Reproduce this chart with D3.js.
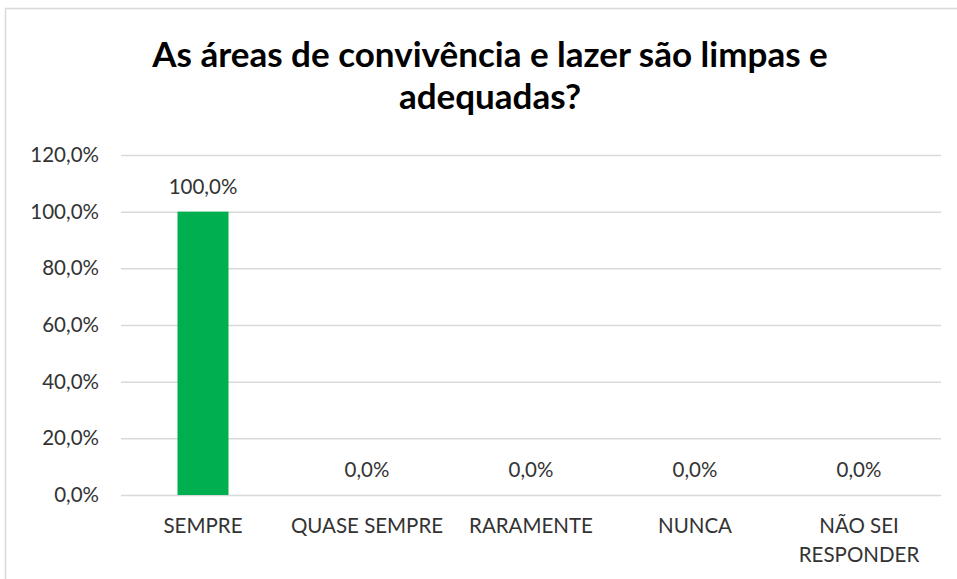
<!DOCTYPE html>
<html><head><meta charset="utf-8">
<script src="https://cdn.jsdelivr.net/npm/d3@7"></script>
<style>body{margin:0;background:#fff}svg{display:block}</style>
</head><body>
<svg id="c" width="957" height="579"></svg>
<script>
const categories = ["SEMPRE", "QUASE SEMPRE", "RARAMENTE", "NUNCA", "NÃO SEI RESPONDER"];
const values = [100.0, 0.0, 0.0, 0.0, 0.0];
const yTicks = [0, 20, 40, 60, 80, 100, 120];
const titleLines = ["As áreas de convivência e lazer são limpas e", "adequadas?"];

const svg = d3.select("#c");
const font = "Lato, 'Open Sans', sans-serif";
const txt = "#333333";
const fs = 20.5;

// chart frame
svg.append("rect").attr("x", 5.5).attr("y", 8.5).attr("width", 1000).attr("height", 600)
  .attr("fill", "#fff").attr("stroke", "#d9d9d9").attr("stroke-width", 1.5);

const m = {left: 121, right: 941, top: 155, bottom: 495};
const x = d3.scaleBand().domain(categories).range([m.left, m.right]).paddingInner(0).paddingOuter(0);
const y = d3.scaleLinear().domain([0, 120]).range([m.bottom, m.top]);

// title
svg.append("g").selectAll("text").data(titleLines).join("text")
  .attr("x", 490).attr("y", (d, i) => 67 + i * 42)
  .attr("text-anchor", "middle").attr("font-family", font).attr("font-weight", "bold")
  .attr("font-size", 35).attr("fill", "#000").text(d => d);

// gridlines
const grid = d3.axisLeft(y).tickValues(yTicks).tickSize(-(m.right - m.left)).tickFormat("");
svg.append("g").attr("transform", `translate(${m.left},0)`).call(grid)
  .call(g => g.select(".domain").remove())
  .call(g => g.selectAll("line").attr("stroke", "#d9d9d9").attr("stroke-width", 1.5));

// y labels
const yAxis = d3.axisLeft(y).tickValues(yTicks).tickSize(0).tickPadding(22)
  .tickFormat(d => d.toFixed(1).replace(".", ",") + "%");
svg.append("g").attr("transform", `translate(${m.left},0)`).call(yAxis)
  .call(g => g.select(".domain").remove())
  .call(g => g.selectAll("text").attr("font-family", font).attr("font-size", fs).attr("fill", txt));

// bars
const bw = 51;
svg.append("g").selectAll("rect").data(values).join("rect")
  .attr("x", (d, i) => x(categories[i]) + x.bandwidth() / 2 - bw / 2)
  .attr("width", bw)
  .attr("y", d => y(d)).attr("height", d => y(0) - y(d))
  .attr("fill", "#00b050");

// data labels
svg.append("g").selectAll("text").data(values).join("text")
  .attr("x", (d, i) => x(categories[i]) + x.bandwidth() / 2)
  .attr("y", d => y(d) - 18)
  .attr("text-anchor", "middle").attr("font-family", font).attr("font-size", fs).attr("fill", txt)
  .text(d => d.toFixed(1).replace(".", ",") + "%");

// x labels
const xAxis = d3.axisBottom(x).tickSize(0).tickPadding(0);
const xg = svg.append("g").attr("transform", `translate(0,${m.bottom})`).call(xAxis);
xg.select(".domain").remove();
xg.selectAll("text").attr("font-family", font).attr("font-size", fs).attr("fill", txt)
  .each(function(d) {
    const t = d3.select(this);
    t.text(null).attr("dy", null).attr("y", 0);
    const lines = d === "NÃO SEI RESPONDER" ? ["NÃO SEI", "RESPONDER"] : [d];
    lines.forEach((l, i) => t.append("tspan").attr("x", 0).attr("y", 38 + i * 29).text(l));
  });
</script>
</body></html>
